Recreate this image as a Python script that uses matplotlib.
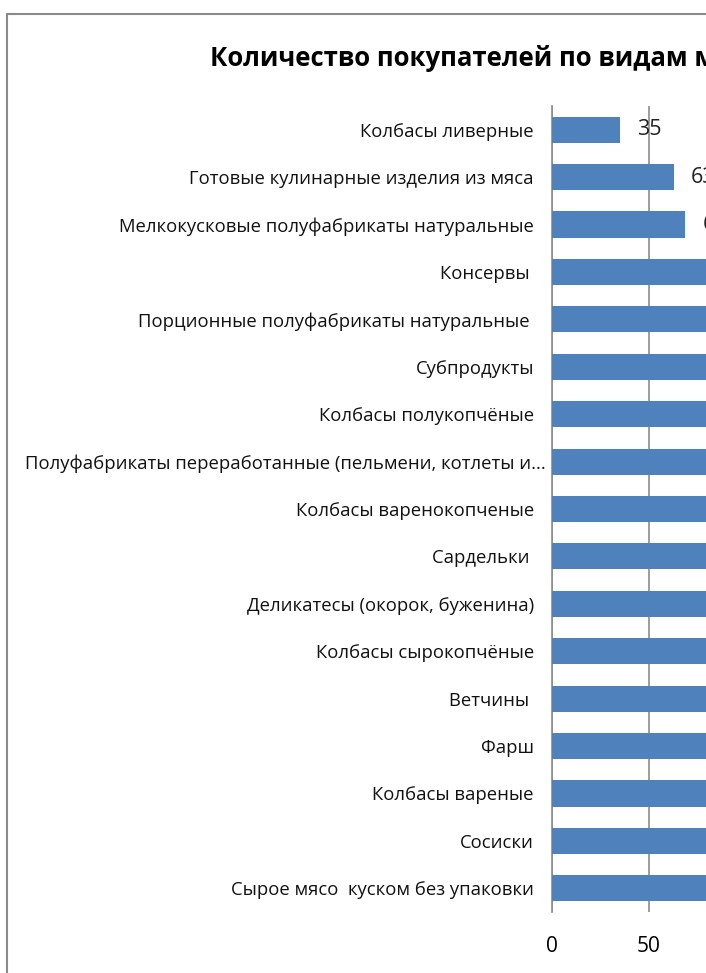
import matplotlib
matplotlib.use("Agg")
import matplotlib.pyplot as plt
from matplotlib.patches import Rectangle
from matplotlib.transforms import ScaledTranslation

plt.rcParams['font.family'] = ['Open Sans', 'DejaVu Sans']

# categories from top to bottom
categories = [
    "Колбасы ливерные",
    "Готовые кулинарные изделия из мяса",
    "Мелкокусковые полуфабрикаты натуральные",
    "Консервы ",
    "Порционные полуфабрикаты натуральные ",
    "Субпродукты",
    "Колбасы полукопчёные",
    "Полуфабрикаты переработанные (пельмени, котлеты и...",
    "Колбасы варенокопченые",
    "Сардельки ",
    "Деликатесы (окорок, буженина)",
    "Колбасы сырокопчёные",
    "Ветчины ",
    "Фарш",
    "Колбасы вареные",
    "Сосиски",
    "Сырое мясо  куском без упаковки",
]
buyers = [35, 63, 69, 85, 92, 98, 105, 110, 118, 124, 131, 137, 145, 152, 160, 168, 180]
x_ticks = [0, 50, 100, 150, 200]

W, H = 706, 973
fig = plt.figure(figsize=(W / 100, H / 100), dpi=100)

# chart frame, runs off the right and bottom edges
fig.add_artist(Rectangle((7 / W, -0.1), 2.0, 1 - 14 / H + 0.1, transform=fig.transFigure,
                         fill=False, edgecolor='#8a8a8a', linewidth=1.5))

fig.text(210 / W, 1 - 58 / H, "Количество покупателей по видам мясной продукции",
         fontsize=18.5, fontweight='bold', ha='left', va='center', color='black')

px_per_unit = 1.934
xmax = 200
ax = fig.add_axes([552 / W, 1 - 912 / H, xmax * px_per_unit / W, 806 / H])

pos = list(range(len(categories)))
ax.barh(pos, buyers, height=0.55, color='#4F81BD', zorder=3)
for y, v in zip(pos, buyers):
    ax.text(v + 9, y, str(v), va='center', ha='left', fontsize=15.5, color='#222222')

ax.set_ylim(len(categories) - 0.5, -0.5)
ax.set_yticks(pos)
ax.set_yticklabels(categories, fontsize=13.3, color='#111111')
ax.set_xlim(0, xmax)
ax.set_xticks(x_ticks)
ax.set_xticklabels([str(t) for t in x_ticks], fontsize=15)
ax.tick_params(axis='y', length=0, pad=13)
ax.tick_params(axis='x', length=0, pad=17)
ax.grid(axis='x', color='#8c8c8c', linewidth=1.2, zorder=0)
for s in ['top', 'right', 'bottom']:
    ax.spines[s].set_visible(False)
ax.spines['left'].set_color('#8c8c8c')
ax.spines['left'].set_linewidth(1.2)

# the shortened label sits closer to the axis
long_lbl = ax.get_yticklabels()[7]
long_lbl.set_transform(long_lbl.get_transform() + ScaledTranslation(12 / 100, 0, fig.dpi_scale_trans))

fig.savefig("out.png", dpi=100)
